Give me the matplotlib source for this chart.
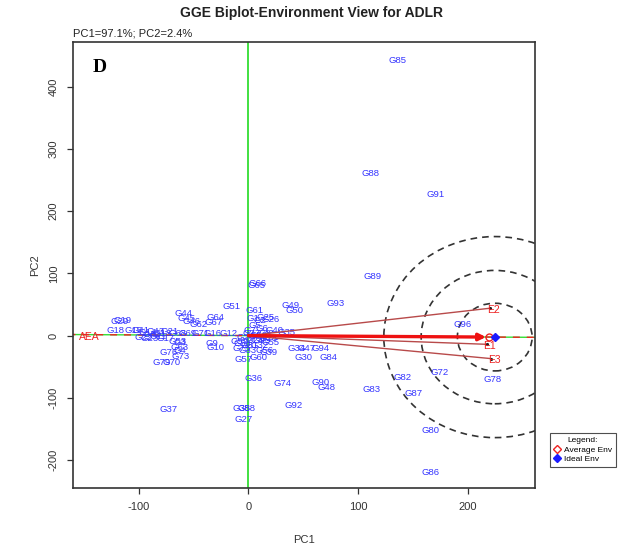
import numpy as np
import matplotlib
matplotlib.use("Agg")
import matplotlib.pyplot as plt
from matplotlib.patches import Ellipse
from matplotlib.lines import Line2D

# Genotype scores on the first two principal components
genotypes = [
    "G85", "G88", "G91", "G89", "G93", "G49", "G50", "G96", "G72", "G82",
    "G78", "G83", "G87", "G80", "G86", "G84", "G30", "G94", "G34", "G47",
    "G35", "G26", "G25", "G61", "G66", "G65", "G39", "G57", "G60", "G36",
    "G74", "G90", "G48", "G92", "G38", "G58", "G27", "G37", "G19", "G29",
    "G18", "G15", "G44", "G51", "G12", "G16", "G10", "G9", "G73", "G70",
    "G63", "G53", "G41", "G14", "G42", "G43", "G11", "G13", "G17", "G21",
    "G22", "G23", "G76", "G79", "G45", "G46", "G62", "G64", "G67", "G68",
    "G69", "G71", "G3", "G4", "G1", "G2", "G5", "G6", "G7", "G8",
    "G20", "G24", "G28", "G31", "G32", "G33", "G40", "G52", "G54", "G55",
    "G56", "G59", "G75", "G77", "G81", "G95",
]
pc1 = [
    136, 111, 170, 113, 79, 38, 42, 195, 174, 140,
    222, 112, 150, 166, 166, 73, 50, 66, 44, 53,
    35, 20, 16, 6, 8, 7, 18, -4, 9, 5,
    31, 66, 71, 41, -6, -2, -4, -73, -115, -117,
    -121, -105, -59, -15, -18, -33, -30, -33, -62, -70,
    -63, -65, -98, -92, -88, -85, -82, -78, -75, -72,
    -95, -90, -73, -79, -56, -52, -45, -30, -32, -65,
    -55, -44, -62, -62, 4, 10.5, 6, 12, 1.4, 15,
    -3, 6, 18, 1.4, 10.5, -0.5, 24, 9, -5, 20,
    15, -8, -6, 3, 8, 12,
]
pc2 = [
    443, 261, 227, 95, 52, 49, 40, 18, -59, -67,
    -70, -86, -93, -152, -220, -35, -35, -20, -20, -20,
    5, 26, 29, 40, 84, 80, -27, -38, -36, -69,
    -77, -75, -84, -112, -117, -117, -135, -119, 25, 22,
    9, 9, 35, 46, 4, 4, -19, -13, -33, -43,
    -19, -10, 8, 5, 2, 7, -2, 3, -4, 6,
    -3, -5, -27, -43, 27, 22, 18, 29, 21, 4,
    4, 4, -11, -24, 28, 25, 17, 12, 8.5, 4,
    -3, -8, -4, -16, -16, -24, 8.5, 0.5, -12, -11,
    -24, -10, -20, 3, -2, -8,
]

# Environment vectors
environments = ["E1", "E2", "E3"]
env_pc1 = [217, 220, 221]
env_pc2 = [-14, 44, -37]

# Concentric distance rings around the ideal environment (PC1 units)
ring_radii = [34, 67, 101]

x_ticks = [-100, 0, 100, 200]
y_ticks = [-200, -100, 0, 100, 200, 300, 400]

W, H = 627, 549
fig = plt.figure(figsize=(W / 100, H / 100), dpi=100)
plt.rcParams["font.family"] = ["Liberation Sans", "DejaVu Sans"]

left, right, top, bottom = 72.7, 535, 42, 488
ax = fig.add_axes([left / W, 1 - bottom / H, (right - left) / W, (bottom - top) / H])
ax.set_xlim(-160, 261)
ax.set_ylim(-245, 472)

env_x = np.array(env_pc1, dtype=float)
env_y = np.array(env_pc2, dtype=float)
avg = np.array([env_x.mean(), env_y.mean()])
unit = avg / np.linalg.norm(avg)
ideal = unit * np.max(np.hypot(env_x, env_y))

# Vertical PC2 axis line
ax.axvline(0, color="#33dd33", lw=1.3, zorder=1)

# Average environment axis (AEA)
t = np.array([-400, 400])
ax.plot(t * unit[0], t * unit[1], color="#33dd33", lw=1.0, zorder=1)
ax.plot(t * unit[0], t * unit[1], color="#ee2222", lw=1.0, ls=(0, (5, 5)), zorder=1)
ax.text(-144.5, -3, "AEA", color="#ee2222", fontsize=7.5, ha="center", va="center", zorder=4)

# Rings around the ideal environment
y_stretch = 1.6
for r in ring_radii:
    ax.add_patch(Ellipse((ideal[0], ideal[1]), 2 * r, 2 * r * y_stretch,
                         fill=False, ec="#333333", lw=1.2, ls=(0, (4, 3)), zorder=2))

# Genotype labels
for name, x, y in zip(genotypes, pc1, pc2):
    ax.text(x, y, name, color="#3535ff", fontsize=6.8, ha="center", va="center", zorder=3)

# Environment vectors
for name, x, y in zip(environments, env_x, env_y):
    ax.plot([0, x], [0, y], color="#b84a4a", lw=1.0, zorder=3)
    ax.plot([x], [y], marker=".", color="#222222", ms=2.5, zorder=4)
    ax.text(x + 3, y - 3, name, color="#ee2222", fontsize=7.5, ha="center", va="center", zorder=4)

# Arrow towards the average environment
ax.annotate("", xy=(avg[0] - 3, avg[1]), xytext=(0, 0),
            arrowprops=dict(arrowstyle="-|>", color="#ee1111", lw=2.4,
                            mutation_scale=10, shrinkA=0, shrinkB=0), zorder=5)
ax.plot([avg[0]], [avg[1]], marker="o", mfc="none", mec="#ee2222", ms=5, mew=1.0, zorder=6)
ax.plot([ideal[0]], [ideal[1]], marker="D", color="#1a1aff", ms=4.5, zorder=6)

ax.set_xticks(x_ticks)
ax.set_yticks(y_ticks)
ax.set_xticklabels([str(v) for v in x_ticks], fontsize=8, color="#333333")
ax.set_yticklabels([str(v) for v in y_ticks], fontsize=8, color="#333333",
                   rotation=90, va="center")
ax.tick_params(direction="out", length=4, width=0.9, color="#333333", pad=6)
for s in ax.spines.values():
    s.set_linewidth(1.2)
    s.set_color("#333333")

fig.text(304 / W, 1 - 540 / H, "PC1", fontsize=8, color="#333333", ha="center", va="center")
fig.text(35 / W, 1 - 265 / H, "PC2", fontsize=8, color="#333333", ha="center", va="center",
         rotation=90)

fig.text(312 / W, 1 - 13 / H, "GGE Biplot-Environment View for ADLR", fontsize=10,
         fontweight="bold", color="#222222", ha="center", va="center")
fig.text(73 / W, 1 - 33 / H, "PC1=97.1%; PC2=2.4%", fontsize=8, color="#222222",
         ha="left", va="center")

fig.text(100 / W, 1 - 67 / H, "D", fontsize=14, fontweight="bold",
         family=["Liberation Serif", "DejaVu Serif"], ha="center", va="center")

handles = [
    Line2D([], [], ls="none", marker="D", mfc="none", mec="#ee2222", ms=4, mew=1.0,
           label="Average Env"),
    Line2D([], [], ls="none", marker="D", color="#1a1aff", ms=4, label="Ideal Env"),
]
leg = fig.legend(handles=handles, title="Legend:", loc="center",
                 bbox_to_anchor=(583 / W, 1 - 450 / H), fontsize=6, title_fontsize=6,
                 frameon=True, fancybox=False, edgecolor="#222222", handlelength=0.8,
                 handletextpad=0.4, borderpad=0.5, labelspacing=0.2)
leg.get_frame().set_linewidth(0.8)

fig.savefig("out.png", dpi=100)
